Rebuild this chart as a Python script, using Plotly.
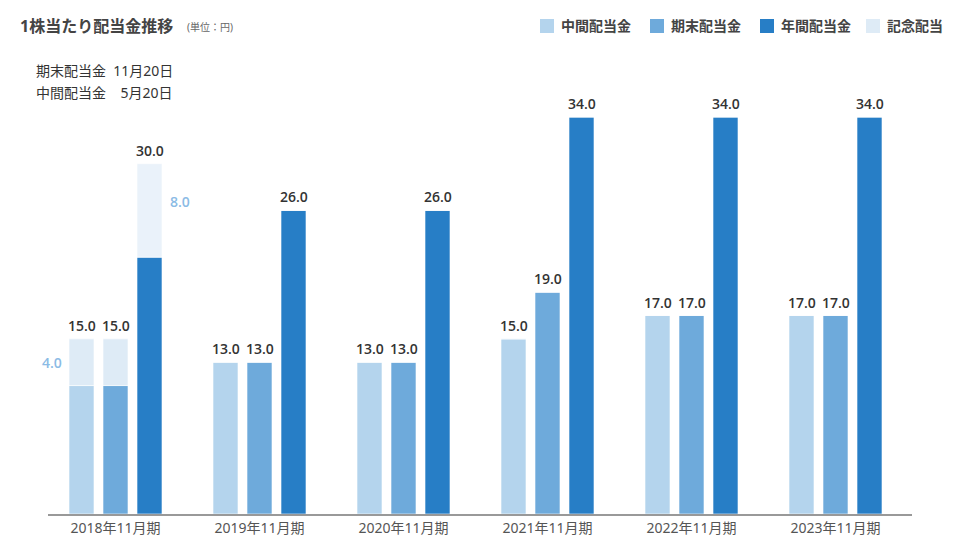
import plotly.graph_objects as go

categories = ["2018年11月期", "2019年11月期", "2020年11月期", "2021年11月期", "2022年11月期", "2023年11月期"]
interim_base = [11.0, 13.0, 13.0, 15.0, 17.0, 17.0]
yearend_base = [11.0, 13.0, 13.0, 19.0, 17.0, 17.0]
annual_base = [22.0, 26.0, 26.0, 34.0, 34.0, 34.0]
interim_memorial = [4.0, 0, 0, 0, 0, 0]
yearend_memorial = [4.0, 0, 0, 0, 0, 0]
annual_memorial = [8.0, 0, 0, 0, 0, 0]
legend_labels = ["中間配当金", "期末配当金", "年間配当金", "記念配当"]

C_INT = "#b4d4ed"
C_END = "#6eaadb"
C_ANN = "#277ec6"
C_MEM = "#deebf6"
C_MEM_ANN = "#eaf2fa"
legend_colors = [C_INT, C_END, C_ANN, C_MEM]

PX = 144.0  # pixels per category
W = 25 / PX
OFF = 34 / PX
idx = list(range(len(categories)))

font = "Noto Sans, Noto Sans CJK JP, sans-serif"
numfont = "Open Sans, Noto Sans, sans-serif"
fig = go.Figure()

def bar(name, y, base, off, color, line_color="rgba(255,255,255,0.6)"):
    fig.add_trace(go.Bar(
        x=idx, y=y, base=base, name=name, width=W, offset=off - W / 2,
        marker=dict(color=color, line=dict(width=1, color=line_color)),
        showlegend=False, hoverinfo="skip"))

bar(legend_labels[0], interim_base, None, -OFF, C_INT)
bar(legend_labels[1], yearend_base, None, 0, C_END)
bar(legend_labels[2], annual_base, None, OFF, C_ANN)
bar(legend_labels[3], interim_memorial, interim_base, -OFF, C_MEM)
bar(legend_labels[3], yearend_memorial, yearend_base, 0, C_MEM)
bar(legend_labels[3], annual_memorial, annual_base, OFF, C_MEM_ANN)

annotations = []
for i in idx:
    for base, mem, off in ((interim_base, interim_memorial, -OFF), (yearend_base, yearend_memorial, 0), (annual_base, annual_memorial, OFF)):
        tot = base[i] + mem[i]
        annotations.append(dict(x=i + off, y=tot, xref="x", yref="y", text=f"{tot:.1f}", showarrow=False,
                                yanchor="bottom", yshift=2,
                                font=dict(family=numfont, size=14, color="#333333", weight=600)))
    if interim_memorial[i]:
        annotations.append(dict(x=i - OFF, y=interim_base[i] + interim_memorial[i] / 2, xref="x", yref="y",
                                text=f"{interim_memorial[i]:.1f}", showarrow=False, xshift=-30,
                                font=dict(family=numfont, size=14, color="#8bbbe5", weight=600)))
    if annual_memorial[i]:
        annotations.append(dict(x=i + OFF, y=annual_base[i] + annual_memorial[i] / 2, xref="x", yref="y",
                                text=f"{annual_memorial[i]:.1f}", showarrow=False, xshift=30, yshift=9,
                                font=dict(family=numfont, size=14, color="#8bbbe5", weight=600)))

def px2paper(x, y):
    return (x - 48) / 864, 1 - (y - 94) / 420

def text_ann(x, y, text, size, color, weight=400):
    px, py = px2paper(x, y)
    annotations.append(dict(x=px, y=py, xref="paper", yref="paper", text=text, showarrow=False,
                            xanchor="left", yanchor="middle",
                            font=dict(family=font, size=size, color=color, weight=weight)))

text_ann(18, 26, "<b>1株当たり配当金推移</b>", 16, "#444444")
text_ann(185, 27, "(単位：円)", 10, "#666666")
text_ann(34, 70, "期末配当金  11月20日", 14, "#333333")
text_ann(34, 92, "中間配当金    5月20日", 14, "#333333")

# manual legend
shapes = []
legend_x = [540, 650, 760, 866]
for lx, lab, col in zip(legend_x, legend_labels, legend_colors):
    x0, y0 = px2paper(lx, 19)
    x1, y1 = px2paper(lx + 14, 33)
    shapes.append(dict(type="rect", xref="paper", yref="paper", x0=x0, x1=x1, y0=y0, y1=y1,
                       fillcolor=col, line=dict(width=0)))
    text_ann(lx + 19, 26, lab, 14, "#444444", 600)

fig.update_layout(
    width=960, height=560,
    margin=dict(l=48, r=48, t=94, b=46),
    paper_bgcolor="white", plot_bgcolor="white",
    barmode="overlay",
    font=dict(family=font, color="#555555"),
    xaxis=dict(tickmode="array", tickvals=idx, ticktext=categories,
               range=[(48 - 115.5) / PX, (912 - 115.5) / PX],
               showline=True, linecolor="#999999", linewidth=2, showgrid=False, zeroline=False,
               ticks="", tickfont=dict(family=font, size=14, color="#555555")),
    yaxis=dict(range=[0, 420 / 11.676], visible=False, showgrid=False, zeroline=False),
    annotations=annotations,
    shapes=shapes,
    showlegend=False,
)

fig.write_html("out.html", config={"displayModeBar": False, "staticPlot": True},
               post_script="document.body.style.margin='0';document.body.style.padding='0';")
